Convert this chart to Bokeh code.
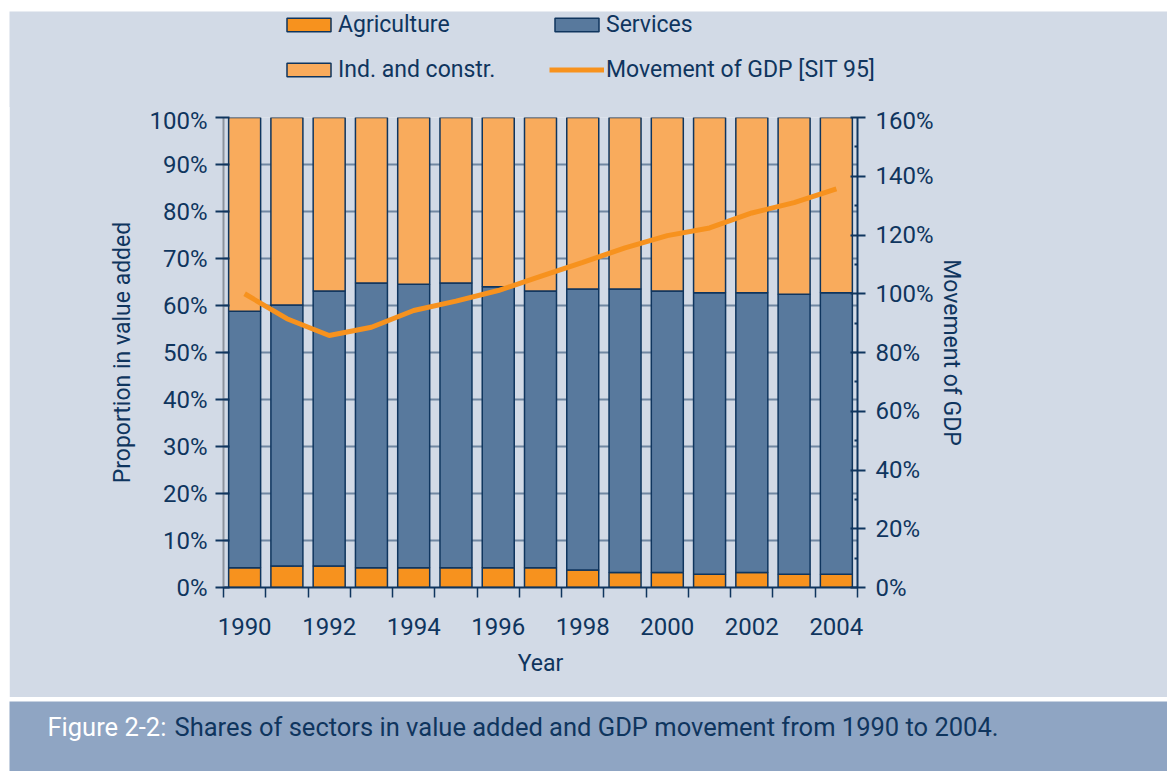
from bokeh.plotting import figure
from bokeh.models import (ColumnDataSource, Range1d, LinearAxis, FixedTicker, Legend,
                          LegendItem, PrintfTickFormatter)
from bokeh.embed import file_html
from bokeh.resources import INLINE
from bokeh.core.properties import value

years = [1990, 1991, 1992, 1993, 1994, 1995, 1996, 1997, 1998, 1999, 2000, 2001, 2002, 2003, 2004]
agriculture = [4.2, 4.6, 4.6, 4.2, 4.2, 4.2, 4.2, 4.2, 3.7, 3.2, 3.2, 2.8, 3.2, 2.8, 2.8]
services = [54.6, 55.5, 58.5, 60.6, 60.3, 60.6, 59.8, 58.9, 59.8, 60.3, 59.9, 59.9, 59.5, 59.6, 59.9]
industry = [41.2, 39.9, 36.9, 35.2, 35.5, 35.2, 36.0, 36.9, 36.5, 36.5, 36.9, 37.3, 37.3, 37.6, 37.3]
gdp = [100.0, 91.5, 85.8, 88.6, 94.3, 97.5, 101.1, 105.9, 110.7, 115.6, 119.8, 122.4, 127.5, 131.0, 135.7]
left_ticks = [0, 10, 20, 30, 40, 50, 60, 70, 80, 90, 100]
right_ticks = [0, 20, 40, 60, 80, 100, 120, 140, 160]
right_minor = [10, 30, 50, 70, 90, 110, 130, 150]
year_labels = [1990, 1992, 1994, 1996, 1998, 2000, 2002, 2004]
year_bounds = [y - 0.5 for y in years] + [2004.5]

NAVY = "#0f355e"
PANEL = "#d2dae6"
BAND = "#8fa5c3"
C_AGR = "#f7921e"
C_SER = "#58799d"
C_IND = "#f9ab5c"
FONT = "Roboto"
FS = "24px"
FS_TITLE = "23px"
FS_LEG = "23px"
FS_CAP = "25.5px"

src = ColumnDataSource(dict(year=years, agr=agriculture, ser=services, ind=industry, gdp=gdp))

# ---------- legend strip ----------
lf = figure(width=1158, height=96, output_backend="svg", toolbar_location=None,
            x_range=Range1d(1989.5, 2004.5), y_range=Range1d(0, 100), min_border=0)
lf.margin = (11, 0, 0, 9)
lf.axis.visible = False
lf.grid.visible = False
lf.outline_line_color = None
lf.background_fill_color = PANEL
lf.border_fill_color = PANEL
# legend-only renderers (not drawn themselves; they only lend their styles to the swatches)
d_agr = lf.vbar(x="year", top="agr", width=1, source=src, visible=False,
                fill_color=C_AGR, line_color=NAVY, line_width=1.5)
d_ser = lf.vbar(x="year", top="ser", width=1, source=src, visible=False,
                fill_color=C_SER, line_color=NAVY, line_width=1.5)
d_ind = lf.vbar(x="year", top="ind", width=1, source=src, visible=False,
                fill_color=C_IND, line_color=NAVY, line_width=1.5)
d_gdp = lf.line(x="year", y="gdp", source=src, visible=False, line_color=C_AGR, line_width=5)

def mk_legend(items, loc):
    lg = Legend(items=items, location=loc, orientation="vertical", click_policy="none")
    lg.padding = 0
    lg.margin = 0
    lg.border_line_alpha = 0
    lg.background_fill_alpha = 0
    lg.inactive_fill_alpha = 0
    lg.glyph_width = 55
    lg.glyph_height = 17
    lg.label_standoff = 2
    lg.label_height = 24
    lg.spacing = 18
    lg.label_text_font = FONT
    lg.label_text_font_size = FS_LEG
    lg.label_text_color = NAVY
    return lg

leg1 = mk_legend([LegendItem(label="Agriculture", renderers=[d_agr]),
                  LegendItem(label="Ind. and constr.", renderers=[d_ind])], (272, 24))
leg2 = mk_legend([LegendItem(label="Services", renderers=[d_ser]),
                  LegendItem(label="Movement of GDP [SIT 95]", renderers=[d_gdp])], (540, 24))
lf.add_layout(leg1)
lf.add_layout(leg2)

# ---------- main chart ----------
p = figure(width=1158, height=591, output_backend="svg", toolbar_location=None,
           x_range=Range1d(1989.5, 2004.5), y_range=Range1d(0, 100),
           min_border_left=214, min_border_right=310, min_border_top=11, min_border_bottom=110)
p.margin = (-1, 0, 0, 9)
p.background_fill_color = PANEL
p.border_fill_color = PANEL
p.outline_line_color = None
p.extra_y_ranges = {"gdp": Range1d(0, 160)}

bars = p.vbar_stack(["agr", "ser", "ind"], x="year", width=0.757, source=src,
                    fill_color=[C_AGR, C_SER, C_IND], line_color=NAVY, line_width=1.5)
gl = p.line("year", "gdp", source=src, y_range_name="gdp", line_color=C_AGR, line_width=5)

ya = p.yaxis[0]
ya.ticker = FixedTicker(ticks=left_ticks)
ya.formatter = PrintfTickFormatter(format="%d%%")
ya.axis_label = "Proportion in value added"
ya.axis_line_color = "#8c939e"
ya.axis_line_width = 2
ya.major_tick_line_color = NAVY
ya.major_tick_line_width = 2
ya.major_tick_out = 8
ya.major_tick_in = 6
ya.minor_tick_line_alpha = 0
ya.major_label_standoff = 8

xa = p.xaxis[0]
xa.ticker = FixedTicker(ticks=year_labels, minor_ticks=year_bounds)
xa.axis_label = "Year"
xa.axis_line_color = NAVY
xa.axis_line_width = 2
xa.major_tick_in = 0
xa.major_tick_out = 0
xa.minor_tick_in = 0
xa.minor_tick_out = 10
xa.minor_tick_line_color = NAVY
xa.minor_tick_line_width = 1.5
xa.major_label_standoff = 20

ra = LinearAxis(y_range_name="gdp", ticker=FixedTicker(ticks=right_ticks, minor_ticks=right_minor),
                formatter=PrintfTickFormatter(format="%d%%"), axis_label="Movement of GDP")
ra.axis_line_color = NAVY
ra.axis_line_width = 2
ra.major_tick_line_color = NAVY
ra.major_tick_line_width = 2
ra.major_tick_out = 8
ra.major_tick_in = 7
ra.minor_tick_line_color = NAVY
ra.minor_tick_line_width = 2
ra.minor_tick_in = 3
ra.minor_tick_out = 0
ra.major_label_standoff = 10
p.add_layout(ra, "right")

for ax in (xa, ya, ra):
    ax.major_label_text_font = FONT
    ax.major_label_text_font_size = FS
    ax.major_label_text_color = NAVY
    ax.axis_label_text_font = FONT
    ax.axis_label_text_font_size = FS_TITLE
    ax.axis_label_text_font_style = "normal"
    ax.axis_label_text_color = NAVY
ya.axis_label_standoff = 10
ra.axis_label_standoff = 1
xa.axis_label_standoff = 12

p.xgrid.visible = False
p.ygrid.grid_line_color = NAVY
p.ygrid.grid_line_width = 2
p.ygrid.grid_line_dash = "1 1"

# ---------- caption band ----------
cap = figure(width=1158, height=70, output_backend="svg", toolbar_location=None,
             x_range=Range1d(0, 1158), y_range=Range1d(0, 70), min_border=0)
cap.margin = (4, 0, 0, 9)
cap.axis.visible = False
cap.grid.visible = False
cap.outline_line_color = None
cap.background_fill_color = BAND
cap.border_fill_color = BAND
cap.text(x=[38], y=[45], text=["Figure 2-2:"], text_font=value(FONT), text_font_size=FS_CAP,
         text_color="white", text_baseline="middle", text_align="left")
cap.text(x=[165], y=[45], text=["Shares of sectors in value added and GDP movement from 1990 to 2004."],
         text_font=value(FONT), text_font_size=FS_CAP, text_color=NAVY,
         text_baseline="middle", text_align="left")

open("out.html", "w").write(file_html([lf, p, cap], INLINE))
